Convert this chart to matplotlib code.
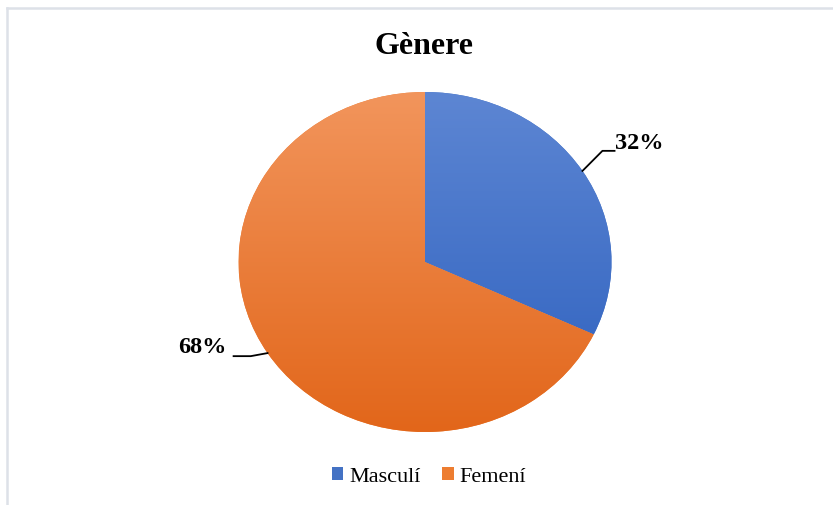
import numpy as np
import matplotlib
matplotlib.use("Agg")
import matplotlib.pyplot as plt
from matplotlib.lines import Line2D
from matplotlib.patches import Patch
from matplotlib.colors import LinearSegmentedColormap

# donnees
categories = ["Masculí", "Femení"]
valeurs = [32, 68]
etiquettes = ["32%", "68%"]
couleurs = ["#4472c4", "#ed7d31"]
haut_bas = [("#5d86d3", "#2d60be"), ("#f2955c", "#e2661a")]

plt.rcParams['font.family'] = ['Liberation Serif', 'DejaVu Serif']

fig = plt.figure(figsize=(8.33, 5.05), dpi=100)
ax = fig.add_axes([0, 0, 1, 1])

wedges, _ = ax.pie(valeurs, colors=couleurs, startangle=90, counterclock=False,
                   radius=1, wedgeprops=dict(linewidth=0))

# centre du camembert (425, 262) px, rayons 186.5 x 170 px
cx, cy, rx, ry = 425, 262, 186.5, 170

# degrade vertical sur chaque part
grad = np.linspace(1, 0, 256).reshape(-1, 1)
for w, (c1, c2) in zip(wedges, haut_bas):
    cmap = LinearSegmentedColormap.from_list("g", [c2, c1])
    im = ax.imshow(grad, cmap=cmap, extent=[-1, 1, -1, 1], aspect='auto',
                   interpolation='bilinear', zorder=w.get_zorder())
    im.set_clip_path(w)
ax.set_aspect('auto')
ax.set_xlim(-cx / rx, (833 - cx) / rx)
ax.set_ylim((cy - 505) / ry, cy / ry)
ax.axis('off')

# etiquettes avec lignes de rappel
for w, lab in zip(wedges, etiquettes):
    ang = np.deg2rad((w.theta1 + w.theta2) / 2)
    x0, y0 = np.cos(ang), np.sin(ang)
    if x0 > 0:
        pts = [(x0, y0), (x0 + 0.107, y0 + 0.118), (x0 + 0.172, y0 + 0.118)]
        tx, ty, ha = pts[-1][0] + 0.005, y0 + 0.16, 'left'
    else:
        pts = [(x0, y0), (x0 - 0.09, y0 - 0.018), (x0 - 0.182, y0 - 0.018)]
        tx, ty, ha = pts[-1][0] - 0.04, y0 + 0.03, 'right'
    xs, ys = zip(*pts)
    ax.plot(xs, ys, color='black', lw=1.3, clip_on=False)
    ax.text(tx, ty, lab, ha=ha, va='center', fontsize=17.5, fontweight='bold')

fig.text(424 / 833, 1 - 46 / 505, "Gènere", ha='center', va='center',
         fontsize=23, fontweight='bold')

handles = [Patch(facecolor=c, edgecolor='none') for c in couleurs]
fig.legend(handles, categories, loc='center', bbox_to_anchor=(429 / 833, 1 - 477 / 505),
           ncol=2, frameon=False, fontsize=16, handlelength=0.5, handleheight=0.5,
           handletextpad=0.25, columnspacing=1.0)

# bordure du cadre
fig.add_artist(Line2D([6.5 / 833, 1], [1 - 7.5 / 505] * 2, color='#dde1e8', lw=1.8))
fig.add_artist(Line2D([6.5 / 833] * 2, [0, 1 - 7.5 / 505], color='#dde1e8', lw=1.8))

fig.savefig("out.png", dpi=100)
